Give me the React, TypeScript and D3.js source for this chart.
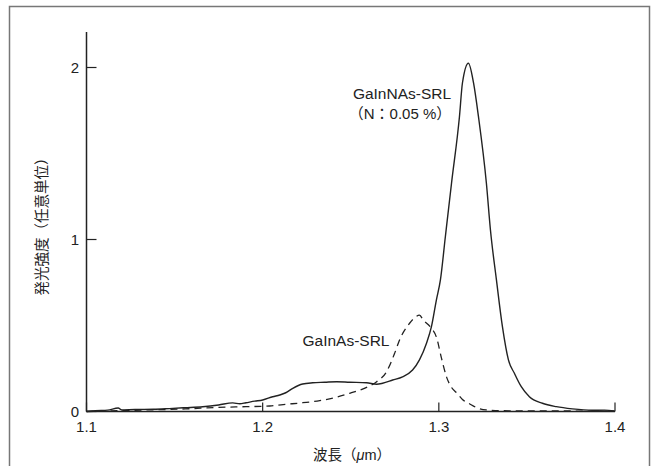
import React from "react";
import * as d3 from "d3";

// wavelength (µm) / intensity (a.u.)
const gainnasWl = [
  1.1, 1.105, 1.112, 1.118, 1.12, 1.1275, 1.138, 1.147, 1.156, 1.166, 1.175, 1.183, 1.187,
  1.1905, 1.1955, 1.2, 1.2057, 1.2097, 1.2131, 1.2171, 1.2227, 1.2284, 1.2352, 1.242, 1.2494,
  1.259, 1.2647, 1.2681, 1.2738, 1.2794, 1.2851, 1.289, 1.293, 1.2958, 1.2986, 1.3009, 1.3037,
  1.3072, 1.3117, 1.3134, 1.3168, 1.3197, 1.3225, 1.327, 1.3293, 1.3327, 1.3361, 1.3395,
  1.3429, 1.3468, 1.3514, 1.3588, 1.3667, 1.3758, 1.3871, 1.394, 1.3996,
];
const gainnasI = [
  0, 0.005, 0.008, 0.02, 0.009, 0.012, 0.013, 0.017, 0.022, 0.028, 0.038, 0.05, 0.045,
  0.051, 0.06, 0.067, 0.086, 0.096, 0.109, 0.135, 0.16, 0.167, 0.17, 0.173, 0.17,
  0.167, 0.158, 0.164, 0.183, 0.202, 0.241, 0.3, 0.397, 0.493, 0.648, 0.765, 1.016,
  1.327, 1.714, 1.91, 2.025, 1.91, 1.714, 1.327, 1.055, 0.765, 0.493, 0.3,
  0.222, 0.144, 0.086, 0.048, 0.028, 0.015, 0.007, 0.008, 0.003,
];

const gainasWl = [
  1.1, 1.119, 1.138, 1.156, 1.175, 1.1905, 1.204, 1.2137, 1.2227, 1.2324, 1.242, 1.2494,
  1.259, 1.2647, 1.2703, 1.2749, 1.2777, 1.2834, 1.2868, 1.289, 1.2913, 1.2953, 1.2987,
  1.3015, 1.3044, 1.3072, 1.31, 1.3134, 1.3174, 1.322, 1.327, 1.34, 1.3685, 1.4,
];
const gainasI = [
  0, 0.005, 0.01, 0.015, 0.024, 0.028, 0.032, 0.042, 0.051, 0.063, 0.083, 0.106,
  0.14, 0.173, 0.231, 0.338, 0.416, 0.513, 0.55, 0.56, 0.53, 0.49, 0.43,
  0.31, 0.2, 0.14, 0.11, 0.07, 0.045, 0.02, 0.009, 0.004, 0.003, 0.002,
];

const xTicks = [1.1, 1.2, 1.3, 1.4];
const yTicks = [0, 1, 2];

const latin = "'Liberation Sans', Arial, Helvetica, sans-serif";
const cjk = "'Noto Sans CJK JP', 'Liberation Sans', sans-serif";
const ink = "#222";

export default function App() {
  const x = d3.scaleLinear().domain([1.1, 1.4]).range([86.5, 615]);
  const y = d3.scaleLinear().domain([0, 2]).range([411.5, 67.5]);

  const line = d3
    .line<[number, number]>()
    .x(d => x(d[0]))
    .y(d => y(d[1]))
    .curve(d3.curveMonotoneX);

  const solid = gainnasWl.map((w, i) => [w, gainnasI[i]] as [number, number]);
  const dashed = gainasWl.map((w, i) => [w, gainasI[i]] as [number, number]);

  return (
    <svg
      width={654}
      height={466}
      style={{ position: "absolute", left: 0, top: 0, background: "#fff" }}
    >
      <rect x={9.5} y={6.5} width={640} height={470} fill="none" stroke="#777" strokeWidth={1.5} />

      {/* axes */}
      <line x1={x(1.1)} x2={x(1.1)} y1={32} y2={y(0)} stroke={ink} strokeWidth={1.5} />
      <line x1={x(1.1)} x2={x(1.4)} y1={y(0)} y2={y(0)} stroke={ink} strokeWidth={1.5} />

      {yTicks.map(t => (
        <g key={t}>
          <line x1={x(1.1)} x2={x(1.1) + 10} y1={y(t)} y2={y(t)} stroke={ink} strokeWidth={1.2} />
          <text x={79} y={y(t) + 5} textAnchor="end" fontSize={15} fontFamily={latin} fill={ink}>
            {t}
          </text>
        </g>
      ))}
      {xTicks.map(t => (
        <g key={t}>
          <line x1={x(t)} x2={x(t)} y1={y(0)} y2={y(0) - 9} stroke={ink} strokeWidth={1.2} />
          <text x={x(t)} y={432} textAnchor="middle" fontSize={15} fontFamily={latin} fill={ink}>
            {t.toFixed(1)}
          </text>
        </g>
      ))}

      {/* curves */}
      <path d={line(dashed) ?? ""} fill="none" stroke={ink} strokeWidth={1.3} strokeDasharray="7,5" />
      <path d={line(solid) ?? ""} fill="none" stroke={ink} strokeWidth={1.4} />

      {/* labels */}
      <text x={402} y={99} textAnchor="middle" fontSize={15.5} fontFamily={latin} fill={ink}>
        GaInNAs-SRL
      </text>
      <text x={400} y={119} textAnchor="middle" fontSize={15} fontFamily={latin} fill={ink}>
        <tspan fontFamily={cjk}>（</tspan>N<tspan fontFamily={cjk}>：</tspan>0.05 %
        <tspan fontFamily={cjk}>）</tspan>
      </text>
      <text x={346} y={346} textAnchor="middle" fontSize={15.5} fontFamily={latin} fill={ink}>
        GaInAs-SRL
      </text>

      <text x={352} y={460} textAnchor="middle" fontSize={14.5} fontFamily={cjk} fill={ink}>
        波長（<tspan fontStyle="italic" fontFamily={latin}>μ</tspan>
        <tspan fontFamily={latin}>m</tspan>）
      </text>
      <text
        transform="translate(47,223) rotate(-90)"
        textAnchor="middle"
        fontSize={14.5}
        fontFamily={cjk}
        fill={ink}
      >
        発光強度（任意単位）
      </text>
    </svg>
  );
}
